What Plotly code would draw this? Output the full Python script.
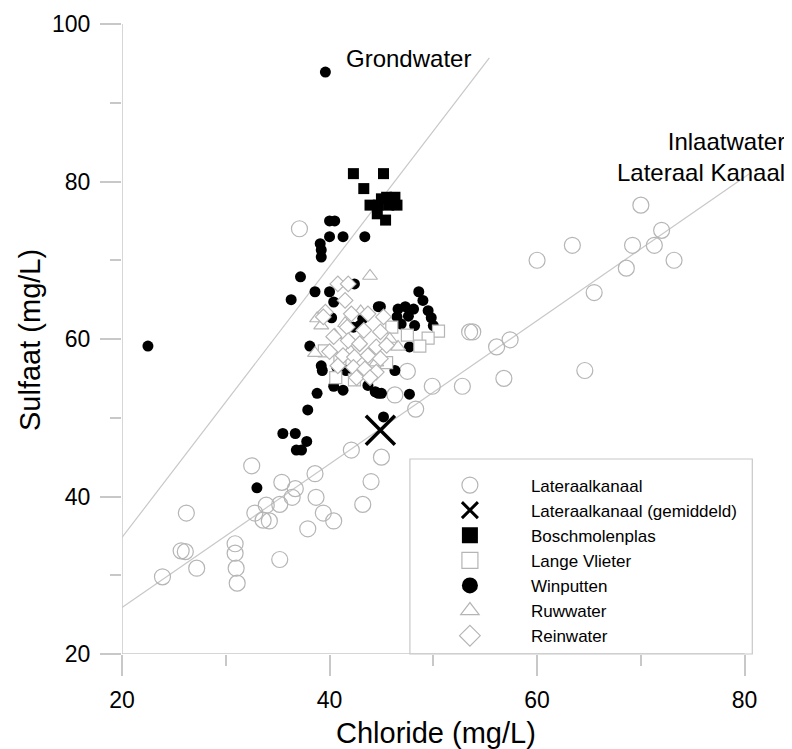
import plotly.graph_objects as go

# ---------------- data ----------------
lat_x = [23.9, 25.7, 26.1, 27.2, 26.2, 30.9, 30.9, 31.0, 31.1, 32.5, 32.8, 33.9, 33.6, 34.2,
         35.2, 35.4, 35.2, 36.4, 36.7, 38.6, 38.7, 37.9, 39.4, 40.4, 42.1, 45.0, 44.0, 43.2,
         46.3, 37.1, 47.5, 49.9, 48.3, 52.8, 53.5, 53.8, 56.1, 57.4, 56.8, 64.6, 65.5, 60.0,
         63.4, 70.0, 69.2, 68.6, 71.3, 72.0, 73.2]
lat_y = [29.8, 33.1, 33.0, 30.9, 37.9, 34.0, 32.8, 30.9, 29.0, 43.9, 37.9, 38.9, 37.0, 36.9,
         39.0, 41.8, 32.0, 39.9, 41.0, 42.9, 39.9, 35.9, 37.9, 36.9, 45.9, 45.0, 41.9, 39.0,
         52.9, 74.0, 55.9, 54.0, 51.1, 54.0, 60.9, 60.9, 59.0, 59.9, 55.0, 56.0, 65.9, 70.0,
         71.9, 77.0, 71.9, 69.0, 71.9, 73.8, 70.0]

gem_x = [44.9]
gem_y = [48.4]

bosch_x = [42.3, 45.2, 43.3, 43.9, 44.7, 45.5, 46.3, 46.5, 44.6, 45.4, 45.7, 45.0]
bosch_y = [81.0, 81.0, 79.1, 77.0, 77.0, 78.0, 78.0, 77.0, 75.9, 75.1, 77.0, 77.8]

lange_x = [50.5, 49.5, 48.7, 47.5, 46.0, 40.6, 42.4, 44.0, 41.0, 45.5, 39.5]
lange_y = [61.0, 60.1, 59.1, 60.5, 61.5, 55.1, 54.8, 56.0, 57.5, 57.0, 58.5]

win_x = [39.6, 22.5, 40.0, 40.5, 40.0, 41.3, 43.4, 39.1, 39.2, 39.2, 37.2, 38.6, 36.3, 42.4,
         40.0, 40.4, 44.7, 43.2, 42.9, 40.2, 48.6, 49.0, 44.9, 46.6, 47.3, 48.1, 49.5, 46.5,
         47.6, 49.8, 48.2, 50.0, 46.9, 38.1, 39.2, 39.3, 40.4, 41.3, 38.8, 37.9, 43.7, 44.7,
         42.3, 41.6, 45.2, 47.7, 46.3, 44.4, 45.0, 47.7, 40.7, 35.5, 36.7, 36.8, 37.3, 37.8,
         33.0]
win_y = [93.9, 59.1, 75.0, 75.0, 73.0, 73.0, 73.0, 72.1, 71.3, 70.4, 67.9, 66.0, 65.0, 67.0,
         66.0, 64.7, 64.1, 62.6, 61.7, 62.7, 66.0, 64.9, 64.1, 63.8, 64.1, 63.8, 63.6, 62.8,
         62.9, 62.7, 61.7, 61.7, 61.9, 59.1, 56.6, 56.0, 54.0, 53.5, 53.1, 51.0, 54.1, 53.1,
         61.5, 56.0, 50.1, 59.0, 56.0, 53.3, 53.1, 53.0, 56.4, 48.0, 48.0, 45.9, 45.9, 47.0,
         41.1]

ruw_x = [43.9, 39.2, 38.8, 40.5, 42.0, 46.6, 44.5, 41.5, 43.0, 38.6, 45.8]
ruw_y = [68.0, 61.7, 62.6, 60.5, 58.5, 59.0, 57.0, 62.0, 63.5, 58.2, 60.0]

rein_x = [40.8, 41.8, 41.5, 39.6, 42.1, 43.7, 45.2, 41.7, 43.3, 44.9, 40.4, 41.8, 42.9, 44.5,
          45.5, 40.0, 41.3, 42.4, 43.7, 44.9, 40.8, 42.3, 43.4, 44.5, 42.6, 43.9, 39.4]
rein_y = [67.0, 67.0, 64.9, 63.4, 63.2, 63.2, 62.8, 61.5, 61.1, 60.9, 60.3, 59.8, 59.4, 59.0,
          59.2, 58.4, 57.9, 57.7, 57.9, 57.5, 56.6, 56.4, 56.2, 55.8, 55.1, 55.1, 62.8]

grond_line_x = [20.0, 55.4]
grond_line_y = [34.8, 95.7]
lat_line_x = [20.0, 80.7]
lat_line_y = [25.9, 81.2]

x_ticks = [20, 40, 60, 80]
y_ticks = [20, 40, 60, 80, 100]

# ---------------- styling ----------------
FONT = "Arial, 'Liberation Sans', sans-serif"
OPEN = "#b5b5b5"
AXC = "#c8c8c8"

# page has an 8px body margin: figure sized to fill the remaining window
OFF = 8
FW, FH = 792 - OFF, 749 - OFF
L, T = 122, 24          # plot-area origin in page pixels
W, H = 633.2, 630


def px(xp):
    return (xp - L) / W


def py(yp):
    return (T + H - yp) / H


fig = go.Figure()

fig.add_trace(go.Scatter(x=grond_line_x, y=grond_line_y, mode="lines",
                         line=dict(color=AXC, width=1.2), showlegend=False, hoverinfo="skip"))
fig.add_trace(go.Scatter(x=lat_line_x, y=lat_line_y, mode="lines",
                         line=dict(color=AXC, width=1.2), showlegend=False, hoverinfo="skip"))

series = [
    # name, x, y, symbol, plot size, fill, line colour, line width, legend rank
    ("Lateraalkanaal", lat_x, lat_y, "circle-open", 16, OPEN, OPEN, 1.2, 1),
    ("Winputten", win_x, win_y, "circle", 11, "black", "black", 0, 5),
    ("Boschmolenplas", bosch_x, bosch_y, "square", 11, "black", "black", 0, 3),
    ("Lange Vlieter", lange_x, lange_y, "square", 12, "white", OPEN, 1.2, 4),
    ("Ruwwater", ruw_x, ruw_y, "triangle-up", 13, "white", OPEN, 1.2, 6),
    ("Reinwater", rein_x, rein_y, "diamond", 12, "white", OPEN, 1.2, 7),
    ("Lateraalkanaal (gemiddeld)", gem_x, gem_y, "x-thin-open", 29, "black", "black", 3.5, 2),
]

for name, xs, ys, sym, size, fill, lc, lw, rank in series:
    fig.add_trace(go.Scatter(x=xs, y=ys, mode="markers", name=name, showlegend=False,
                             marker=dict(symbol=sym, size=size, color=fill,
                                         line=dict(color=lc, width=lw))))
    # legend entry with a larger symbol, like the original key
    fig.add_trace(go.Scatter(x=[None], y=[None], mode="markers", name=name, legendrank=rank,
                             marker=dict(symbol=sym, size=16, color=fill,
                                         line=dict(color=lc, width=lw if lw < 3 else 3))))

axis_common = dict(showgrid=False, zeroline=False, showline=False, ticks="outside",
                   ticklen=21, tickwidth=1.5, tickcolor=AXC,
                   tickfont=dict(family=FONT, size=23, color="black"),
                   minor=dict(ticks="outside", ticklen=11, tickwidth=1.5, tickcolor=AXC,
                              dtick=10, tick0=20))

fig.update_xaxes(range=[20, 81], tickvals=x_ticks, ticklabelstandoff=4, **axis_common)
fig.update_yaxes(range=[20, 100], tickvals=y_ticks, ticklabelstandoff=5, **axis_common)

fig.update_layout(
    width=FW, height=FH,
    margin=dict(l=L - OFF, r=FW - (L - OFF) - W, t=T - OFF, b=FH - (T - OFF) - H,
                autoexpand=False),
    plot_bgcolor="white", paper_bgcolor="white",
    font=dict(family=FONT, color="black"),
    showlegend=True,
    legend=dict(x=px(409), y=py(467.5), xanchor="left", yanchor="top",
                bgcolor="rgba(0,0,0,0)", borderwidth=0, itemwidth=112,
                font=dict(family=FONT, size=17, color="black"), traceorder="normal"),
    shapes=[
        dict(type="line", xref="x", yref="y", x0=20, x1=80, y0=20, y1=20,
             line=dict(color=AXC, width=1.5), layer="below"),
        dict(type="line", xref="x", yref="y", x0=20, x1=20, y0=20, y1=100,
             line=dict(color=AXC, width=1.5), layer="below"),
        dict(type="rect", xref="paper", yref="paper", x0=px(410), x1=px(752.5), y0=0, y1=py(459),
             line=dict(color=AXC, width=1.2), layer="below"),
    ],
    annotations=[
        dict(text="Grondwater", xref="paper", yref="paper", x=px(344), y=py(58),
             xanchor="left", yanchor="middle", showarrow=False,
             font=dict(family=FONT, size=24, color="black")),
        dict(text="Inlaatwater<br>Lateraal Kanaal", xref="paper", yref="paper", x=px(787), y=py(157),
             xanchor="right", yanchor="middle", align="right", showarrow=False,
             font=dict(family=FONT, size=24, color="black")),
        dict(text="Chloride (mg/L)", xref="paper", yref="paper", x=px(436), y=py(733),
             xanchor="center", yanchor="middle", showarrow=False,
             font=dict(family=FONT, size=29, color="black")),
        dict(text="Sulfaat (mg/L)", xref="paper", yref="paper", x=px(30), y=py(340),
             xanchor="center", yanchor="middle", textangle=-90, showarrow=False,
             font=dict(family=FONT, size=29, color="black")),
    ],
)

fig.write_html("out.html")
